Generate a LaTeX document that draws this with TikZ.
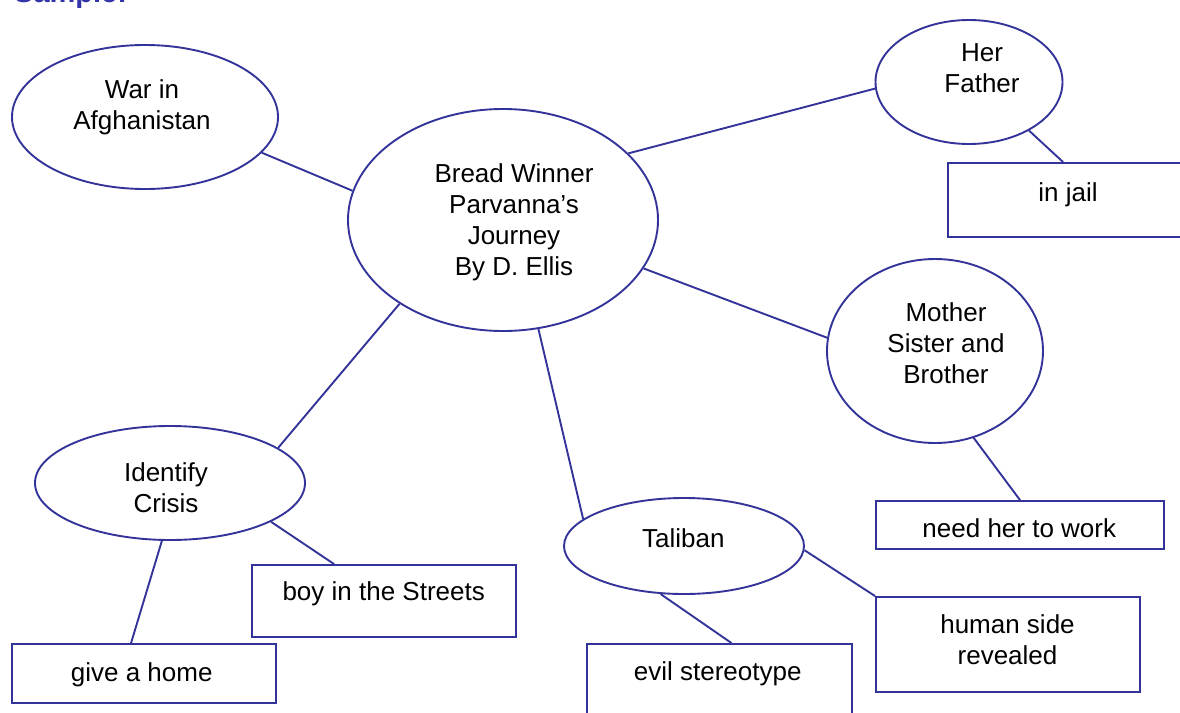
\documentclass[tikz,border=0pt]{standalone}
\usepackage{fontspec}
\setmainfont{Liberation Sans}
\usetikzlibrary{shapes.geometric,calc}
\definecolor{lineblue}{RGB}{51,51,153}
\definecolor{sampleblue}{RGB}{51,51,170}
\begin{document}
\begin{tikzpicture}[x=1pt,y=-1pt,
  bubble/.style={draw=lineblue, line width=1.9pt, ellipse, inner sep=0pt},
  box/.style={draw=lineblue, line width=1.9pt, rectangle, inner sep=0pt},
  txt/.style={font=\fontsize{26}{31}\selectfont, align=center, anchor=north, inner sep=0pt},
  link/.style={draw=lineblue, line width=1.9pt}]
\useasboundingbox (0,0) rectangle (1180,712);
\clip (0,0) rectangle (1180,712);
% title
\node[anchor=base west, inner sep=0pt, text=sampleblue, font=\fontsize{29}{30}\selectfont\bfseries] (sample) at (14,2) {Sample:};
% ellipses
\node[bubble, minimum width=266pt, minimum height=144pt] (war) at (145,117) {};
\node[bubble, minimum width=310pt, minimum height=222pt] (central) at (503,220) {};
\node[bubble, minimum width=187pt, minimum height=124pt] (father) at (969,82) {};
\node[bubble, minimum width=216pt, minimum height=184pt] (mother) at (935,351) {};
\node[bubble, minimum width=270pt, minimum height=114pt] (identify) at (170,483) {};
\node[bubble, minimum width=240pt, minimum height=96pt] (taliban) at (684,546) {};
% boxes
\node[box, minimum width=240pt, minimum height=74pt] (jail) at (1068,200) {};
\node[box, minimum width=288pt, minimum height=48pt] (need) at (1020,525) {};
\node[box, minimum width=264pt, minimum height=95pt] (human) at (1008,644.5) {};
\node[box, minimum width=265pt, minimum height=96pt] (evil) at (719.5,692) {};
\node[box, minimum width=264pt, minimum height=72pt] (boy) at (384,601) {};
\node[box, minimum width=264pt, minimum height=59pt] (give) at (144,673.5) {};
% texts
\node[txt] (warT) at (142,79.4) {War in\\Afghanistan};
\node[txt] (centralT) at (514,163.4) {Bread Winner\\Parvanna’s\\Journey\\By D. Ellis};
\node[txt] (fatherT) at (982,43.1) {Her\\Father};
\node[txt] (motherT) at (946,302.4) {Mother\\Sister and\\Brother};
\node[txt] (identT) at (166,462.4) {Identify\\Crisis};
\node[txt] (talT) at (683.3,528.1) {Taliban};
\node[txt] (jailT) at (1068,182.4) {in jail};
\node[txt] (needT) at (1019.3,518.1) {need her to work};
\node[txt] (humanT) at (1007.5,614.1) {human side\\revealed};
\node[txt] (evilT) at (717.7,661.4) {evil stereotype};
\node[txt] (boyT) at (383.7,581.4) {boy in the Streets};
\node[txt] (giveT) at (141.7,662.4) {give a home};
% connectors
\draw[link] (war.-17) -- (central.169);
\draw[link] (central.28) -- (father.184);
\draw[link] (father.-39) -- ($(jail.north west)+(116,0)$);
\draw[link] (central.-19) -- (mother.173);
\draw[link] (mother.-66) -- (need.north);
\draw[link] (central.-72) -- (taliban.165);
\draw[link] (taliban.-2) -- (human.north west);
\draw[link] (taliban.-116) -- ($(evil.north)+(12,0)$);
\draw[link] (central.219) -- (identify.18);
\draw[link] (identify.-21) -- ($(boy.north west)+(83,0)$);
\draw[link] (identify.-98) -- ($(give.north west)+(120,0)$);
\end{tikzpicture}
\end{document}
